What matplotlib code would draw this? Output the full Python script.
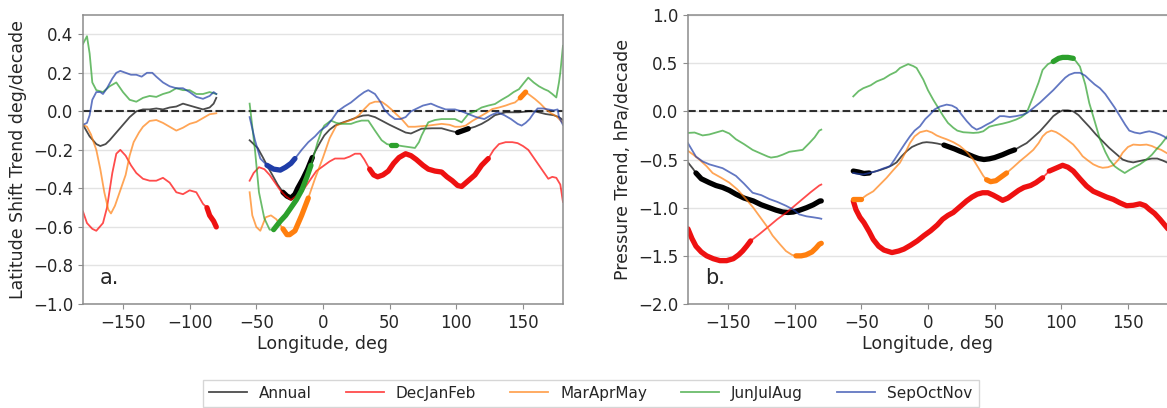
import numpy as np
import matplotlib
matplotlib.use("Agg")
import matplotlib.pyplot as plt

GAP = (np.nan, np.nan)

seasons = ["Annual", "DecJanFeb", "MarAprMay", "JunJulAug", "SepOctNov"]
thin_colors = ["black", "red", "#ff7f0e", "#2ca02c", "#1f3da8"]
thick_colors = ["black", "#ee1111", "#ff7f0e", "#2ca02c", "#1f3da8"]

# ---- panel a: latitude shift trend (deg/decade), (longitude, value)
lat_annual = [(-180, -0.07), (-175, -0.13), (-170, -0.17), (-167, -0.18), (-163, -0.17), (-160, -0.15),
              (-155, -0.11), (-150, -0.07), (-145, -0.03), (-140, 0.0), (-135, 0.01), (-130, 0.01),
              (-125, 0.015), (-120, 0.01), (-115, 0.02), (-110, 0.025), (-105, 0.04), (-100, 0.03),
              (-95, 0.02), (-90, 0.01), (-85, 0.02), (-82, 0.04), (-80, 0.07), GAP,
              (-55, -0.15), (-49, -0.19), (-45, -0.24), (-42, -0.28), (-38, -0.33), (-34, -0.38),
              (-30, -0.42), (-27, -0.44), (-24, -0.45), (-21, -0.43), (-19, -0.4), (-15, -0.35),
              (-11.5, -0.3), (-8, -0.24), (-6, -0.21), (-2, -0.16), (1, -0.125), (5, -0.095), (9, -0.074),
              (14, -0.06), (19, -0.048), (26, -0.03), (30, -0.022), (34, -0.02), (39, -0.03), (44, -0.048),
              (50, -0.07), (56, -0.09), (62, -0.11), (66, -0.115), (74, -0.09), (82, -0.088), (89, -0.088),
              (95, -0.1), (101, -0.11), (105, -0.1), (109, -0.09), (114, -0.08), (119, -0.065),
              (124, -0.045), (129, -0.02), (137, -0.005), (147, -0.005), (154, 0.0), (159, 0.0),
              (167, -0.014), (173, -0.02), (177, -0.03), (180, -0.045)]
lat_djf = [(-180, -0.52), (-177, -0.58), (-173, -0.61), (-170, -0.62), (-165, -0.58), (-162, -0.5),
           (-158, -0.32), (-155, -0.22), (-152, -0.2), (-148, -0.23), (-144, -0.28), (-140, -0.32),
           (-135, -0.35), (-130, -0.36), (-125, -0.36), (-120, -0.345), (-115, -0.37), (-110, -0.42),
           (-105, -0.43), (-100, -0.41), (-95, -0.42), (-90, -0.48), (-87, -0.5), (-85, -0.54),
           (-82, -0.57), (-80, -0.6), GAP,
           (-55, -0.36), (-52, -0.32), (-48, -0.29), (-44, -0.3), (-40, -0.33), (-36, -0.37), (-32, -0.41),
           (-28, -0.44), (-24, -0.46), (-20, -0.44), (-16, -0.42), (-12, -0.38), (-9, -0.35), (-5, -0.31),
           (1, -0.28), (5, -0.26), (9, -0.245), (16, -0.245), (20, -0.235), (24, -0.22), (28, -0.22),
           (31, -0.25), (35, -0.3), (38, -0.33), (41, -0.34), (45, -0.33), (49, -0.31), (53, -0.27),
           (57, -0.24), (62, -0.22), (66, -0.23), (70, -0.25), (75, -0.28), (79, -0.3), (84, -0.31),
           (89, -0.315), (93, -0.34), (97, -0.36), (101, -0.385), (104, -0.39), (109, -0.36),
           (114, -0.33), (119, -0.28), (124, -0.245), (128, -0.2), (132, -0.17), (137, -0.16),
           (142, -0.16), (146, -0.165), (150, -0.18), (154, -0.2), (157, -0.23), (161, -0.27),
           (165, -0.31), (169, -0.35), (172, -0.34), (175, -0.345), (178, -0.38), (180, -0.47)]
lat_mam = [(-180, -0.07), (-177, -0.08), (-174, -0.12), (-170, -0.2), (-167, -0.3), (-164, -0.42),
           (-161, -0.51), (-159, -0.53), (-156, -0.49), (-152, -0.41), (-148, -0.33), (-145, -0.23),
           (-142, -0.16), (-138, -0.11), (-135, -0.08), (-130, -0.05), (-125, -0.045), (-120, -0.06),
           (-115, -0.08), (-110, -0.1), (-105, -0.085), (-100, -0.065), (-95, -0.055), (-90, -0.035),
           (-85, -0.015), (-80, -0.01), GAP,
           (-55, -0.42), (-53, -0.54), (-50, -0.6), (-47, -0.62), (-43, -0.55), (-39, -0.54), (-35, -0.56),
           (-30, -0.61), (-27, -0.64), (-25, -0.64), (-21, -0.62), (-16, -0.54), (-11, -0.45), (-6, -0.35),
           (0, -0.24), (5, -0.14), (10, -0.074), (16, -0.057), (23, -0.04), (27, -0.02), (31, 0.012),
           (35, 0.04), (39, 0.05), (44, 0.05), (48, 0.03), (51, 0.012), (55, -0.015), (59, -0.04),
           (64, -0.08), (69, -0.08), (79, -0.074), (89, -0.065), (95, -0.07), (99, -0.08), (103, -0.08),
           (107, -0.074), (112, -0.05), (117, -0.03), (122, -0.01), (127, 0.012), (132, 0.02),
           (137, 0.03), (141, 0.04), (144, 0.046), (148, 0.07), (152, 0.1), (155, 0.085), (159, 0.064),
           (163, 0.04), (167, 0.012), (171, -0.01), (175, -0.025), (180, -0.06)]
lat_jja = [(-180, 0.35), (-177, 0.39), (-175, 0.3), (-173, 0.15), (-170, 0.11), (-165, 0.1), (-160, 0.13),
           (-155, 0.15), (-150, 0.1), (-145, 0.06), (-140, 0.05), (-135, 0.07), (-130, 0.08),
           (-125, 0.075), (-120, 0.09), (-115, 0.1), (-110, 0.12), (-105, 0.11), (-100, 0.11),
           (-95, 0.09), (-90, 0.09), (-85, 0.1), (-80, 0.09), GAP,
           (-55, 0.04), (-53, -0.08), (-51, -0.2), (-48, -0.42), (-44, -0.555), (-40, -0.614),
           (-37, -0.614), (-32, -0.57), (-28, -0.54), (-24, -0.5), (-20, -0.46), (-16, -0.41),
           (-12, -0.34), (-9, -0.28), (-6, -0.21), (-4, -0.16), (-1, -0.1), (1, -0.074), (6, -0.048),
           (10, -0.06), (14, -0.065), (21, -0.065), (25, -0.055), (29, -0.048), (34, -0.048), (39, -0.1),
           (44, -0.15), (48, -0.17), (51, -0.175), (55, -0.175), (59, -0.18), (64, -0.185), (69, -0.19),
           (72, -0.16), (74, -0.125), (79, -0.057), (84, -0.045), (89, -0.04), (94, -0.04), (99, -0.04),
           (104, -0.057), (109, -0.014), (114, 0.0), (119, 0.02), (124, 0.03), (129, 0.038), (134, 0.06),
           (139, 0.08), (143, 0.1), (147, 0.115), (151, 0.15), (154, 0.175), (158, 0.15), (162, 0.13),
           (166, 0.115), (169, 0.106), (172, 0.09), (175, 0.072), (177, 0.15), (178, 0.2), (179, 0.27),
           (180, 0.34)]
lat_son = [(-180, -0.07), (-177, -0.06), (-175, -0.02), (-173, 0.06), (-170, 0.1), (-167, 0.1),
           (-165, 0.09), (-162, 0.12), (-158, 0.17), (-155, 0.2), (-152, 0.21), (-148, 0.2), (-144, 0.19),
           (-140, 0.19), (-136, 0.18), (-132, 0.2), (-128, 0.2), (-125, 0.18), (-120, 0.15), (-115, 0.13),
           (-110, 0.12), (-105, 0.12), (-100, 0.1), (-95, 0.075), (-90, 0.065), (-85, 0.08), (-82, 0.1),
           (-80, 0.09), GAP,
           (-55, -0.03), (-51, -0.15), (-47, -0.245), (-42, -0.28), (-37, -0.3), (-32, -0.305),
           (-28, -0.29), (-24, -0.27), (-21, -0.245), (-16, -0.2), (-11, -0.16), (-6, -0.13), (-2, -0.1),
           (3, -0.075), (7, -0.04), (11, 0.0), (16, 0.025), (21, 0.046), (27, 0.08), (31, 0.1), (34, 0.11),
           (39, 0.09), (43, 0.05), (46, 0.01), (50, -0.02), (54, -0.04), (58, -0.04), (62, -0.03),
           (66, 0.0), (69, 0.01), (75, 0.03), (81, 0.04), (86, 0.025), (92, 0.01), (99, 0.01), (104, 0.0),
           (109, -0.014), (115, -0.03), (121, -0.04), (126, -0.02), (131, -0.005), (136, -0.02),
           (141, -0.04), (146, -0.065), (149, -0.074), (152, -0.06), (155, -0.04), (158, -0.01),
           (161, 0.015), (165, 0.015), (169, 0.01), (173, 0.005), (176, 0.01), (177, -0.03), (180, -0.07)]

# longitude ranges drawn thick (significant)
lat_thick = [[(-31, -7), (96, 110)],
             [(-88, -80), (33, 124)],
             [(-30, -9), (146, 153)],
             [(-38, -8), (50, 58)],
             [(-42, -20)]]

# ---- panel b: pressure trend (hPa/decade)
prs_annual = [(-180, -0.53), (-176, -0.6), (-174, -0.64), (-170, -0.7), (-164, -0.74), (-159, -0.77),
              (-154, -0.79), (-149, -0.82), (-144, -0.86), (-138, -0.9), (-131, -0.93), (-125, -0.97),
              (-119, -1.0), (-114, -1.025), (-109, -1.045), (-105, -1.05), (-101, -1.045), (-96, -1.025),
              (-91, -1.0), (-86, -0.97), (-81, -0.93), (-80, -0.93), GAP,
              (-56, -0.62), (-52, -0.63), (-48, -0.645), (-44, -0.64), (-41, -0.63), (-36, -0.61),
              (-31, -0.586), (-27, -0.56), (-23.5, -0.53), (-20, -0.47), (-16, -0.414), (-12, -0.37),
              (-8, -0.345), (-4, -0.325), (-1, -0.32), (3, -0.325), (7, -0.334), (12, -0.35), (16, -0.37),
              (20, -0.39), (24, -0.414), (29, -0.44), (34, -0.47), (38, -0.49), (42, -0.5), (46, -0.493),
              (50, -0.48), (56, -0.45), (61, -0.42), (65, -0.4), (70, -0.36), (74, -0.33), (79, -0.27),
              (84, -0.207), (89, -0.13), (94, -0.05), (98, -0.01), (101, 0.01), (105, 0.01), (109, 0.0),
              (113, -0.04), (116, -0.086), (121, -0.16), (126, -0.24), (131, -0.31), (136, -0.38),
              (141, -0.44), (146, -0.5), (150, -0.52), (154, -0.53), (159, -0.515), (164, -0.5),
              (168, -0.49), (172, -0.49), (176, -0.51), (180, -0.535)]
prs_djf = [(-180, -1.22), (-177, -1.32), (-174, -1.4), (-170, -1.46), (-166, -1.5), (-161, -1.53),
           (-156, -1.55), (-151, -1.55), (-146, -1.53), (-142, -1.49), (-139, -1.45), (-136, -1.4),
           (-133, -1.345), (-126, -1.27), (-119, -1.19), (-113, -1.12), (-106, -1.05), (-100, -0.98),
           (-94, -0.91), (-88, -0.84), (-81.5, -0.77), (-80, -0.76), GAP,
           (-56, -0.93), (-54, -1.02), (-51, -1.1), (-48, -1.155), (-44, -1.25), (-41, -1.33), (-37, -1.4),
           (-33, -1.44), (-27, -1.466), (-22, -1.45), (-18, -1.43), (-13, -1.39), (-8, -1.345),
           (-3, -1.29), (2, -1.24), (7, -1.18), (11, -1.12), (15, -1.08), (19, -1.05), (24, -0.99),
           (29, -0.93), (33, -0.89), (37, -0.86), (41, -0.845), (45, -0.845), (49, -0.87), (53, -0.9),
           (56, -0.924), (60, -0.9), (64, -0.86), (68, -0.82), (72, -0.79), (77, -0.77), (81, -0.74),
           (86, -0.69), (91, -0.62), (96, -0.59), (101, -0.56), (105, -0.58), (109, -0.62), (114, -0.7),
           (119, -0.776), (124, -0.83), (129, -0.86), (134, -0.89), (139, -0.914), (144, -0.95),
           (149, -0.98), (154, -0.975), (159, -0.96), (163, -0.98), (166, -1.017), (170, -1.06),
           (174, -1.12), (177, -1.17), (180, -1.22)]
prs_mam = [(-180, -0.41), (-176, -0.45), (-171.5, -0.5), (-166, -0.57), (-161.5, -0.64), (-155, -0.69),
           (-149, -0.74), (-143, -0.81), (-136.5, -0.91), (-131, -1.0), (-126.5, -1.086), (-121, -1.19),
           (-116.5, -1.29), (-111, -1.38), (-106.5, -1.45), (-102, -1.49), (-99, -1.5), (-95, -1.5),
           (-91.5, -1.49), (-87, -1.46), (-84, -1.42), (-81.5, -1.38), (-80, -1.37), GAP,
           (-56, -0.91), (-53, -0.91), (-50, -0.91), (-46, -0.87), (-41, -0.83), (-36, -0.76),
           (-31, -0.69), (-26, -0.61), (-21, -0.534), (-17, -0.43), (-13.5, -0.33), (-10, -0.26),
           (-6, -0.217), (-1, -0.2), (3, -0.22), (6.5, -0.25), (10, -0.27), (14, -0.29), (19, -0.32),
           (24, -0.36), (29, -0.42), (34, -0.5), (38, -0.59), (41.5, -0.67), (44, -0.71), (47, -0.73),
           (51, -0.72), (55, -0.68), (59, -0.64), (64, -0.58), (69, -0.517), (74, -0.46), (79, -0.4),
           (83, -0.33), (86, -0.26), (89, -0.22), (92.6, -0.2), (96, -0.215), (99, -0.24), (104, -0.29),
           (109, -0.345), (113, -0.41), (116, -0.466), (120, -0.51), (124, -0.55), (128, -0.575),
           (131, -0.586), (135, -0.58), (139, -0.56), (143, -0.5), (146, -0.43), (150, -0.37),
           (154, -0.345), (159, -0.35), (164, -0.345), (168, -0.36), (171, -0.38), (175, -0.4),
           (180, -0.44)]
prs_jja = [(-180, -0.224), (-175, -0.22), (-169, -0.25), (-164, -0.24), (-159, -0.22), (-154, -0.2),
           (-149, -0.23), (-144, -0.29), (-138, -0.34), (-131.5, -0.4), (-125, -0.44), (-120, -0.47),
           (-117.7, -0.48), (-113, -0.47), (-109, -0.45), (-104, -0.42), (-99, -0.41), (-94, -0.4),
           (-89, -0.33), (-85, -0.27), (-81.5, -0.2), (-80, -0.19), GAP,
           (-56, 0.155), (-52, 0.21), (-48.5, 0.24), (-43, 0.27), (-38.5, 0.31), (-33, 0.34),
           (-28.5, 0.38), (-24, 0.41), (-21, 0.45), (-18, 0.47), (-14.8, 0.49), (-11, 0.47),
           (-8.5, 0.45), (-6, 0.39), (-3.5, 0.33), (0, 0.22), (4, 0.12), (8, 0.03), (11.5, -0.05),
           (15, -0.12), (19, -0.17), (22, -0.2), (26.5, -0.217), (30, -0.22), (34, -0.224), (38, -0.22),
           (41.5, -0.207), (46, -0.16), (50, -0.145), (56, -0.128), (61, -0.11), (66, -0.086),
           (70, -0.06), (74, -0.017), (79, 0.155), (83, 0.3), (86, 0.43), (90, 0.49), (94, 0.517),
           (98, 0.55), (101, 0.56), (105, 0.56), (109, 0.55), (111, 0.52), (114, 0.465), (118, 0.28),
           (121, 0.086), (125, -0.1), (129, -0.29), (133, -0.42), (136, -0.5), (140, -0.57), (143, -0.6),
           (147.6, -0.64), (151, -0.61), (154, -0.586), (159, -0.55), (164, -0.5), (168, -0.45),
           (171, -0.4), (175, -0.34), (180, -0.25)]
prs_son = [(-180, -0.33), (-177, -0.4), (-174, -0.47), (-169, -0.52), (-164, -0.55), (-159, -0.57),
           (-154, -0.59), (-149, -0.63), (-144, -0.67), (-138, -0.75), (-131.5, -0.845), (-125, -0.87),
           (-119, -0.91), (-113, -0.94), (-106.5, -0.98), (-101, -1.02), (-96.5, -1.07), (-91, -1.09),
           (-86, -1.1), (-81.5, -1.11), (-80, -1.115), GAP,
           (-56, -0.64), (-52, -0.65), (-48.5, -0.655), (-44, -0.64), (-38.5, -0.62), (-33, -0.59),
           (-28.5, -0.57), (-25, -0.5), (-21, -0.414), (-17, -0.33), (-13.5, -0.26), (-10, -0.2),
           (-6, -0.155), (-2, -0.08), (1.5, -0.034), (5, 0.02), (9, 0.05), (14, 0.07), (18, 0.06),
           (21.5, 0.034), (25, -0.03), (29, -0.1), (33, -0.16), (36.5, -0.19), (40, -0.17), (44, -0.138),
           (48, -0.11), (53.9, -0.05), (57, -0.05), (61.4, -0.059), (66, -0.05), (71.4, -0.034),
           (75, -0.01), (79, 0.034), (84, 0.09), (89, 0.155), (94, 0.22), (99, 0.293), (103, 0.35),
           (106, 0.38), (110, 0.4), (114, 0.4), (118, 0.37), (121, 0.33), (125, 0.28), (129, 0.24),
           (133, 0.18), (136, 0.12), (140, 0.04), (144, -0.05), (148, -0.14), (151, -0.2), (155, -0.22),
           (159, -0.23), (163, -0.215), (166, -0.207), (170, -0.22), (174, -0.24), (177, -0.26),
           (180, -0.29)]

prs_thick = [[(-175, -80), (-56, -42), (12, 65)],
             [(-180, -132), (-56, 86), (91, 180)],
             [(-100, -80), (-56, -50), (43, 60)],
             [(93, 110)],
             []]

lat_series = [lat_annual, lat_djf, lat_mam, lat_jja, lat_son]
prs_series = [prs_annual, prs_djf, prs_mam, prs_jja, prs_son]


def draw_panel(ax, series, thick_ranges):
    handles = []
    for pts, rngs, c_thin, c_thick, name in zip(series, thick_ranges, thin_colors, thick_colors, seasons):
        lon = np.array([p[0] for p in pts], dtype=float)
        val = np.array([p[1] for p in pts], dtype=float)
        h, = ax.plot(lon, val, color=c_thin, lw=1.3, alpha=0.7, label=name)
        handles.append(h)
        for lo, hi in rngs:
            m = (lon >= lo) & (lon <= hi)
            ax.plot(lon[m], val[m], color=c_thick, lw=3.8, solid_capstyle="round")
    ax.axhline(0, color="black", lw=1.5, ls="--", alpha=0.8, zorder=1)
    ax.set_xlim(-180, 180)
    ax.set_xticks([-150, -100, -50, 0, 50, 100, 150])
    ax.grid(axis="y", color="#e3e3e3", lw=1)
    ax.set_axisbelow(True)
    for s in ax.spines.values():
        s.set_color("#8c8c8c")
        s.set_linewidth(1.1)
    ax.tick_params(labelsize=12, colors="#8c8c8c", labelcolor="#262626", length=3.5)
    ax.set_xlabel("Longitude, deg", fontsize=12.5, color="#262626", labelpad=2)
    return handles


fig = plt.figure(figsize=(11.67, 4.08), dpi=100)
ax1 = fig.add_axes([0.0711, 0.2549, 0.4113, 0.7083])
ax2 = fig.add_axes([0.5895, 0.2549, 0.4113, 0.7083])

handles = draw_panel(ax1, lat_series, lat_thick)
ax1.set_ylim(-1.0, 0.5)
ax1.set_yticks(np.arange(-1.0, 0.41, 0.2))
ax1.set_ylabel("Latitude Shift Trend deg/decade", fontsize=12.5, color="#262626")
ax1.text(0.035, 0.07, "a.", transform=ax1.transAxes, fontsize=15, color="#262626")

draw_panel(ax2, prs_series, prs_thick)
ax2.set_ylim(-2.0, 1.0)
ax2.set_yticks(np.arange(-2.0, 1.01, 0.5))
ax2.set_ylabel("Pressure Trend, hPa/decade", fontsize=12.5, color="#262626")
ax2.text(0.035, 0.07, "b.", transform=ax2.transAxes, fontsize=15, color="#262626")

fig.legend(handles=handles, loc="upper center", bbox_to_anchor=(0.506, 0.088), ncol=5,
           fontsize=11, frameon=True, edgecolor="#cccccc", columnspacing=2.2, handlelength=2.5,
           fancybox=False, labelcolor="#262626")

fig.savefig("out.png", dpi=100)
